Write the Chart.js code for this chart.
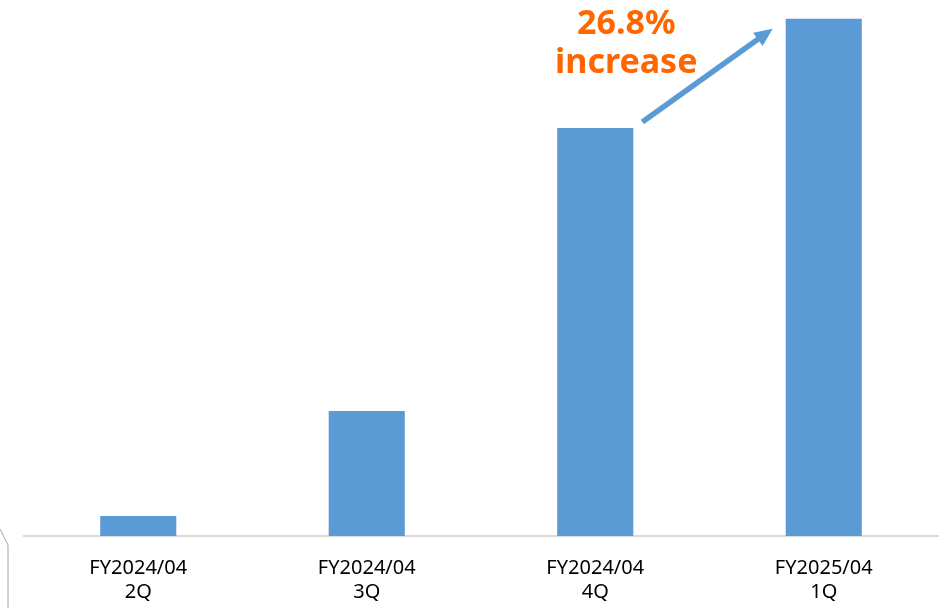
<!DOCTYPE html>
<html lang="en">
<head>
  <meta charset="UTF-8">
  <title>Quarterly growth</title>
  <script src="https://cdn.jsdelivr.net/npm/chart.js"></script>
  <style>
    html, body { margin: 0; padding: 0; background: #fff; }
    #wrap { width: 948px; height: 608px; position: relative; }
  </style>
</head>
<body>
  <div id="wrap"><canvas id="growthChart"></canvas></div>

  <script>
    const quarters = [
      ['FY2024/04', '2Q'],
      ['FY2024/04', '3Q'],
      ['FY2024/04', '4Q'],
      ['FY2025/04', '1Q']
    ];
    const amounts = [20, 125, 408, 517.3];
    const barColor = '#5B9BD5';
    const noteColor = '#FF6600';

    // growth between the last two quarters, shown above the arrow
    const last = amounts.length - 1;
    const growthPct = ((amounts[last] / amounts[last - 1] - 1) * 100).toFixed(1);
    const noteLines = [growthPct + '%', 'increase'];

    const growthArrow = {
      id: 'growthArrow',
      afterDatasetsDraw(chart) {
        const ctx = chart.ctx;
        const bars = chart.getDatasetMeta(0).data;
        const from = bars[last - 1], to = bars[last];
        const x1 = from.x + from.width / 2 + 9, y1 = from.y - 6;
        const x2 = to.x - to.width / 2 - 13, y2 = to.y + 10;
        const ang = Math.atan2(y2 - y1, x2 - x1);
        const head = 20;

        ctx.save();
        ctx.strokeStyle = barColor;
        ctx.fillStyle = barColor;
        ctx.lineWidth = 5.5;
        ctx.beginPath();
        ctx.moveTo(x1, y1);
        ctx.lineTo(x2 - Math.cos(ang) * head * 0.8, y2 - Math.sin(ang) * head * 0.8);
        ctx.stroke();
        ctx.beginPath();
        ctx.moveTo(x2, y2);
        ctx.lineTo(x2 - head * Math.cos(ang - 0.42), y2 - head * Math.sin(ang - 0.42));
        ctx.lineTo(x2 - head * Math.cos(ang + 0.42), y2 - head * Math.sin(ang + 0.42));
        ctx.closePath();
        ctx.fill();

        ctx.fillStyle = noteColor;
        ctx.font = 'bold 34px "Noto Sans"';
        ctx.textAlign = 'center';
        ctx.textBaseline = 'alphabetic';
        const cx = x1 - 16;
        ctx.fillText(noteLines[0], cx, 34);
        ctx.fillText(noteLines[1], cx, 73);

        // corner of a neighbouring shape peeking in at the bottom left
        ctx.strokeStyle = '#A6A6A6';
        ctx.lineWidth = 1;
        ctx.beginPath();
        ctx.moveTo(0, 529);
        ctx.lineTo(8, 545);
        ctx.lineTo(8, 608);
        ctx.stroke();
        ctx.restore();
      }
    };

    new Chart(document.getElementById('growthChart'), {
      type: 'bar',
      data: {
        labels: quarters,
        datasets: [{
          data: amounts,
          backgroundColor: barColor,
          categoryPercentage: 1,
          barPercentage: 0.333
        }]
      },
      options: {
        responsive: true,
        maintainAspectRatio: false,
        animation: false,
        layout: { padding: { top: 0, left: 24, right: 10, bottom: 0 } },
        plugins: { legend: { display: false }, tooltip: { enabled: false } },
        scales: {
          x: {
            grid: { display: false, drawTicks: false },
            border: { display: true, color: '#D9D9D9', width: 2 },
            ticks: {
              color: '#000',
              padding: 20,
              font: { family: '"Noto Sans"', size: 20, lineHeight: 1.2 }
            },
            afterFit(axis) { axis.height = 72; }
          },
          y: {
            display: false,
            min: 0,
            max: 536
          }
        }
      },
      plugins: [growthArrow]
    });
  </script>
</body>
</html>
